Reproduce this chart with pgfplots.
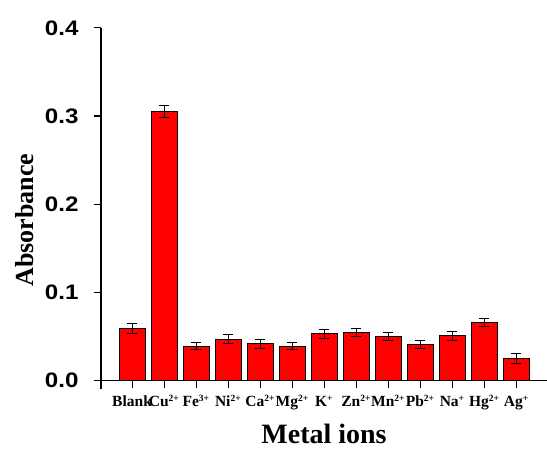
\documentclass[border=0pt]{standalone}
\usepackage{fontspec}
\setmainfont{Liberation Serif}
\newfontfamily\tickfont{Liberation Sans}[FakeStretch=1.15]
\usepackage{pgfplots}
\pgfplotsset{compat=1.18}
\usepackage{pgfplotstable}
\pgfplotstableread{
x y e
0 0.059 0.006
1 0.305 0.007
2 0.039 0.004
3 0.047 0.005
4 0.042 0.005
5 0.039 0.004
6 0.053 0.005
7 0.055 0.0045
8 0.050 0.0045
9 0.041 0.005
10 0.051 0.005
11 0.066 0.005
12 0.025 0.0055
}\datatable
\newcommand{\sus}[1]{\textsuperscript{\fontsize{9.5bp}{9.5bp}\selectfont #1}}
\begin{document}
\begin{tikzpicture}
\begin{axis}[
  scale only axis,
  width=446bp, height=352.9bp,
  xmin=-0.97, xmax=12.96,
  ymin=0, ymax=0.4,
  axis x line=bottom, axis y line=left,
  axis line style={line width=1.1bp, -},
  y axis line style={shorten <=-8bp},
  tick align=outside,
  major tick length=7bp,
  tick style={line width=1.1bp, black},
  xtick=data,
  xticklabels={Blank, Cu\sus{2+}, Fe\sus{3+}, Ni\sus{2+}, Ca\sus{2+}, Mg\sus{2+}, K\sus{+}, Zn\sus{2+}, Mn\sus{2+}, Pb\sus{2+}, Na\sus{+}, Hg\sus{2+}, Ag\sus{+}},
  xticklabel style={font=\bfseries\fontsize{15.5bp}{18bp}\selectfont, anchor=base, inner sep=0pt},
  xticklabel shift=19bp,
  ytick={0,0.1,0.2,0.3,0.4},
  yticklabel style={font=\tickfont\bfseries\fontsize{21bp}{23bp}\selectfont},
  yticklabel shift=12bp,
  /pgf/number format/assume math mode=true,
  /pgf/number format/fixed,
  /pgf/number format/fixed zerofill,
  /pgf/number format/precision=1,
  ylabel={Absorbance},
  xlabel={Metal ions},
  ylabel style={font=\bfseries\fontsize{26bp}{28bp}\selectfont, at={(axis description cs:-0.143,0.455)}, anchor=south},
  xlabel style={font=\bfseries\fontsize{28bp}{30bp}\selectfont, at={(axis description cs:0.5,-0.178)}, anchor=base},
  clip=false,
]
\addplot[ybar, bar width=0.81, fill=red, draw=black, line width=1bp,
  error bars/.cd, y dir=both, y explicit,
  error bar style={line width=1bp, black},
  error mark options={rotate=90, mark size=5bp, line width=1bp, black}]
  table[x=x, y=y, y error=e]{\datatable};
\coordinate (ll) at (rel axis cs:0,0);
\coordinate (ur) at (rel axis cs:1,1);
\end{axis}
\pgfresetboundingbox
\path[use as bounding box] ([shift={(-101bp,-68.3bp)}]ll) rectangle ([shift={(0bp,27.8bp)}]ur);
\end{tikzpicture}
\end{document}
